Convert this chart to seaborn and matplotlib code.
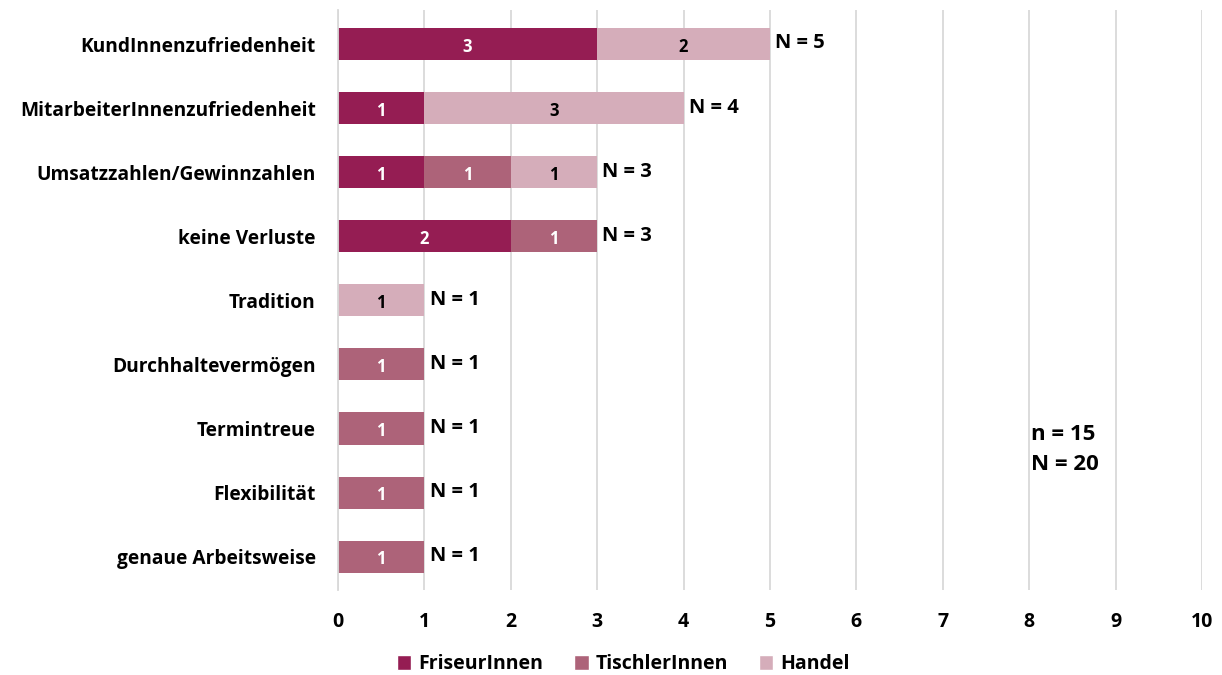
import numpy as np
import pandas as pd
import matplotlib
matplotlib.use("Agg")
import matplotlib.pyplot as plt
import seaborn as sns
from matplotlib.patches import Patch

categories = [
    "KundInnenzufriedenheit",
    "MitarbeiterInnenzufriedenheit",
    "Umsatzzahlen/Gewinnzahlen",
    "keine Verluste",
    "Tradition",
    "Durchhaltevermögen",
    "Termintreue",
    "Flexibilität",
    "genaue Arbeitsweise",
]
friseur = [3, 1, 1, 2, 0, 0, 0, 0, 0]
tischler = [0, 0, 1, 1, 0, 1, 1, 1, 1]
handel = [2, 3, 1, 0, 1, 0, 0, 0, 0]
series_names = ["FriseurInnen", "TischlerInnen", "Handel"]
colors = ["#951D53", "#AD6379", "#D5ADBA"]
label_colors = ["white", "white", "black"]
x_ticks = list(range(0, 11))
summary_lines = ["n = 15", "N = 20"]

sns.set_theme(style="white")
plt.rcParams["font.family"] = ["Open Sans", "DejaVu Sans"]
plt.rcParams["font.weight"] = "bold"
plt.rcParams["text.color"] = "black"
plt.rcParams["xtick.color"] = "black"
plt.rcParams["ytick.color"] = "black"

series = [friseur, tischler, handel]
cum = np.cumsum(np.array(series), axis=0)  # running totals per series

fig = plt.figure(figsize=(12.22, 6.75), dpi=100)
ax = fig.add_axes([0.2766, 0.126, 0.707, 0.859])

# vertical grid lines
for t in x_ticks:
    ax.axvline(t, color="#D9D9D9", lw=1.3, zorder=0)

# stacked bars: draw cumulative totals from the outermost segment inward
for i in reversed(range(len(series))):
    sns.barplot(x=cum[i], y=categories, orient="h", color=colors[i],
                width=0.5, saturation=1, ax=ax, zorder=2, linewidth=0)

# segment value labels and row totals
for j, cat in enumerate(categories):
    left = 0
    for i, vals in enumerate(series):
        v = vals[j]
        if v > 0:
            ax.text(left + v / 2, j + 0.04, str(v), ha="center", va="center",
                    color=label_colors[i], fontsize=12, fontweight="bold", zorder=3)
        left += v
    total = cum[-1][j]
    ax.text(total + 0.06, j - 0.01, f"N = {total}", ha="left", va="center",
            color="black", fontsize=14.5, fontweight="bold", zorder=3)

ax.text(8.02, 6.33, "\n".join(summary_lines), ha="left", va="center",
        fontsize=16, fontweight="bold", linespacing=1.6, zorder=3)

ax.set_xlim(0, 10)
ax.set_ylim(8.52, -0.53)
ax.set_xticks(x_ticks)
ax.set_xticklabels([str(t) for t in x_ticks], fontsize=14, fontweight="bold")
ax.tick_params(axis="x", length=0, pad=16)
ax.tick_params(axis="y", length=0, pad=16)
for lbl in ax.get_yticklabels():
    lbl.set_fontsize(13.8)
    lbl.set_fontweight("bold")
ax.set_xlabel("")
ax.set_ylabel("")
for s in ["top", "right", "bottom"]:
    ax.spines[s].set_visible(False)
ax.spines["left"].set_color("#D9D9D9")
ax.spines["left"].set_linewidth(1.3)

handles = [Patch(facecolor=c, label=n) for c, n in zip(colors, series_names)]
fig.legend(handles=handles, loc="center", bbox_to_anchor=(0.51, 0.016),
           ncol=3, frameon=False, handlelength=0.75, handleheight=0.75,
           handletextpad=0.35, columnspacing=1.6,
           prop={"weight": "bold", "size": 14})

fig.savefig("out.png", dpi=100)
